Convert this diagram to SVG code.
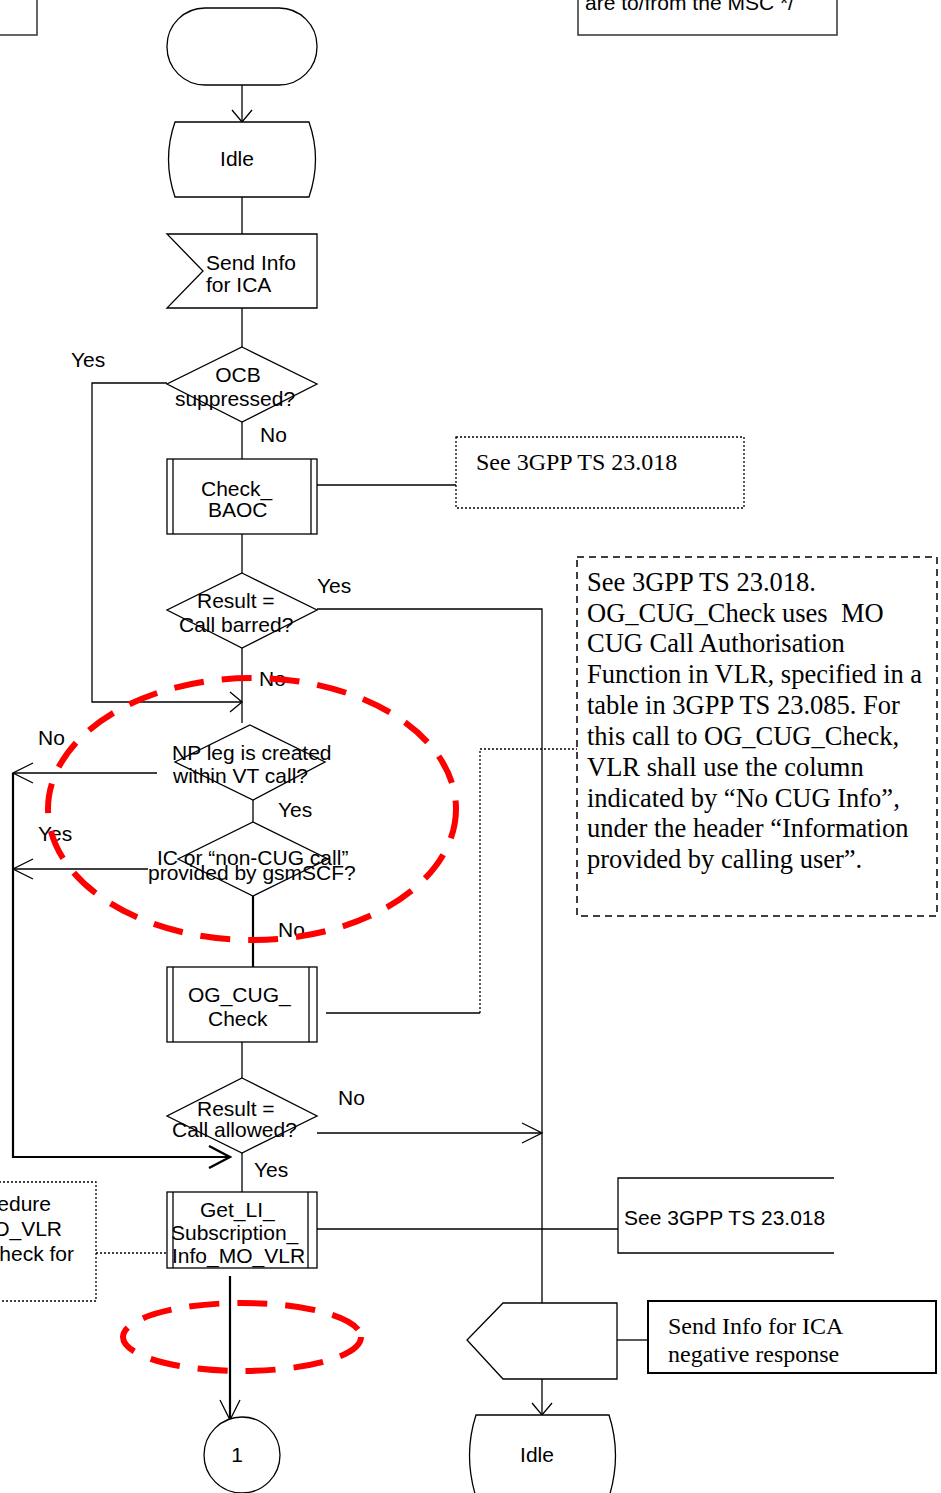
<svg xmlns="http://www.w3.org/2000/svg" width="941" height="1493" viewBox="0 0 941 1493">
<defs>
<style>
.s{fill:#fff;stroke:#000;stroke-width:1.3}
.ln{fill:none;stroke:#000;stroke-width:1.3}
.bd{fill:none;stroke:#000;stroke-width:2.2}
.dot{fill:none;stroke:#000;stroke-width:1.3;stroke-dasharray:2 2}
.red{fill:none;stroke:#f00;stroke-width:6;stroke-dasharray:30 18}
.a{font-family:"Liberation Sans",Arial,sans-serif;font-size:21px;fill:#000}
.t{font-family:"Liberation Serif","Times New Roman",serif;font-size:24px;fill:#000}
.tb{font-family:"Liberation Serif","Times New Roman",serif;font-size:26.5px;fill:#000}
</style>
<marker id="arr" viewBox="0 0 22 22" refX="21" refY="11" markerWidth="22" markerHeight="22" markerUnits="userSpaceOnUse" orient="auto"><path d="M1,1 L21,11 L1,21" fill="none" stroke="#000" stroke-width="1.3"/></marker>
<marker id="arrS" viewBox="0 0 14 22" refX="13" refY="11" markerWidth="14" markerHeight="22" markerUnits="userSpaceOnUse" orient="auto"><path d="M1,1 L13,11 L1,21" fill="none" stroke="#000" stroke-width="1.3"/></marker>
<marker id="arrB" viewBox="0 0 24 24" refX="22" refY="12" markerWidth="24" markerHeight="24" markerUnits="userSpaceOnUse" orient="auto"><path d="M1,1 L22,12 L1,23" fill="none" stroke="#000" stroke-width="2.4"/></marker>
</defs>
<rect width="941" height="1493" fill="#fff"/>

<g id="connectors">
<line class="ln" x1="242" y1="85" x2="242" y2="122" marker-end="url(#arrS)"/>
<line class="ln" x1="242" y1="197" x2="242" y2="234"/>
<line class="ln" x1="242" y1="308" x2="242" y2="347"/>
<polyline class="ln" points="167,383 92,383 92,702 242,702" marker-end="url(#arrS)"/>
<line class="ln" x1="242" y1="422" x2="242" y2="459"/>
<line class="ln" x1="312" y1="485" x2="456" y2="485"/>
<line class="ln" x1="242" y1="534" x2="242" y2="573"/>
<polyline class="ln" points="317,609 542,609 542,1303"/>
<line class="ln" x1="242" y1="648" x2="242" y2="723"/>
<line class="ln" x1="157" y1="773" x2="13" y2="773" marker-end="url(#arr)"/>
<line class="ln" x1="148" y1="869" x2="13" y2="869" marker-end="url(#arr)"/>
<polyline class="bd" points="13,773 13,1157 230,1157" marker-end="url(#arrB)"/>
<line class="ln" x1="253" y1="800" x2="253" y2="822"/>
<line class="bd" x1="253" y1="896" x2="253" y2="967"/>
<polyline class="ln" points="326,1013 480,1013"/>
<polyline class="dot" points="480,1013 480,749 577,749"/>
<line class="ln" x1="242" y1="1042" x2="242" y2="1078"/>
<line class="ln" x1="317" y1="1133" x2="542" y2="1133" marker-end="url(#arr)"/>
<line class="ln" x1="242" y1="1153" x2="242" y2="1192"/>
<line class="ln" x1="317" y1="1229" x2="618" y2="1229"/>
<line class="dot" x1="96" y1="1253" x2="167" y2="1253"/>
<line class="bd" x1="230" y1="1276" x2="230" y2="1420" marker-end="url(#arr)"/>
<line class="ln" x1="617" y1="1340" x2="648" y2="1340"/>
<line class="ln" x1="542" y1="1379" x2="542" y2="1415" marker-end="url(#arrS)"/>
</g>

<g id="note-topleft"><rect x="-5" y="-5" width="42" height="40" fill="none" stroke="#333" stroke-width="1.5"/></g>
<g id="note-topright"><rect x="578" y="-5" width="259" height="40" fill="none" stroke="#333" stroke-width="1.5"/><text class="a" x="585" y="10">are to/from the MSC */</text></g>

<g id="start"><rect class="s" x="167" y="8" width="150" height="77" rx="38" ry="38"/></g>
<g id="idle1"><path class="s" d="M175,122 H309 Q322,159 309,197 H175 Q162,159 175,122 Z"/><text class="a" x="237" y="166" text-anchor="middle">Idle</text></g>
<g id="send-info"><path class="s" d="M167,234 H317 V308 H167 L203,271 Z"/><text class="a" x="206" y="270">Send Info</text><text class="a" x="206" y="292">for ICA</text></g>
<g id="ocb"><path class="s" d="M242,347 L317,384 L242,422 L167,384 Z"/><text class="a" x="238" y="382" text-anchor="middle">OCB</text><text class="a" x="235" y="406" text-anchor="middle">suppressed?</text></g>
<g id="check-baoc"><rect class="s" x="167" y="459" width="150" height="75"/><line class="ln" x1="173" y1="459" x2="173" y2="534"/><line class="ln" x1="311" y1="459" x2="311" y2="534"/><text class="a" x="201" y="496">Check_</text><text class="a" x="208" y="517">BAOC</text></g>
<g id="note-baoc"><rect class="dot" x="456" y="437" width="288" height="71"/><text class="t" x="476" y="470">See 3GPP TS 23.018</text></g>
<g id="barred"><path class="s" d="M242,573 L317,610 L242,648 L167,610 Z"/><text class="a" x="197" y="608">Result =</text><text class="a" x="179" y="632">Call barred?</text></g>
<g id="np-leg"><path class="s" d="M250,725 L325,762 L253,800 L175,762 Z" fill="none"/><text class="a" x="172" y="760">NP leg is created</text><text class="a" x="173" y="783">within VT call?</text></g>
<g id="ic-noncug"><path class="s" d="M253,822 L328,859 L253,896 L178,859 Z" fill="none"/><text class="a" x="157" y="865">IC or “non-CUG call”</text><text class="a" x="148" y="880">provided by gsmSCF?</text></g>
<g id="og-cug"><rect class="s" x="167" y="967" width="150" height="75"/><line class="ln" x1="173" y1="967" x2="173" y2="1042"/><line class="ln" x1="309" y1="967" x2="309" y2="1042"/><text class="a" x="188" y="1002">OG_CUG_</text><text class="a" x="208" y="1026">Check</text></g>
<g id="note-cug"><rect x="577" y="557" width="360" height="359" fill="none" stroke="#000" stroke-width="1.5" stroke-dasharray="7 5"/>
<text class="tb" x="587" y="591">See 3GPP TS 23.018.</text>
<text class="tb" x="587" y="622">OG_CUG_Check uses&#160; MO</text>
<text class="tb" x="587" y="652">CUG Call Authorisation</text>
<text class="tb" x="587" y="683">Function in VLR, specified in a</text>
<text class="tb" x="587" y="714">table in 3GPP TS 23.085. For</text>
<text class="tb" x="587" y="745">this call to OG_CUG_Check,</text>
<text class="tb" x="587" y="776">VLR shall use the column</text>
<text class="tb" x="587" y="807">indicated by “No CUG Info”,</text>
<text class="tb" x="587" y="837">under the header “Information</text>
<text class="tb" x="587" y="868">provided by calling user”.</text></g>
<g id="allowed"><path class="s" d="M242,1078 L317,1116 L242,1153 L167,1116 Z"/><text class="a" x="197" y="1116">Result =</text><text class="a" x="172" y="1137">Call allowed?</text></g>
<g id="get-li"><rect class="s" x="167" y="1192" width="150" height="76"/><line class="ln" x1="173" y1="1192" x2="173" y2="1268"/><line class="ln" x1="308" y1="1192" x2="308" y2="1268"/><text class="a" x="200" y="1217">Get_LI_</text><text class="a" x="171" y="1240">Subscription_</text><text class="a" x="172" y="1263">Info_MO_VLR</text></g>
<g id="note-li-left"><rect class="dot" x="-5" y="1182" width="101" height="119"/><text class="a" x="51" y="1211" text-anchor="end">edure</text><text class="a" x="62" y="1236" text-anchor="end">O_VLR</text><text class="a" x="74" y="1261" text-anchor="end">heck for</text></g>
<g id="note-li-right"><polyline class="ln" points="834,1178 618,1178 618,1253 834,1253"/><text class="a" x="624" y="1225">See 3GPP TS 23.018</text></g>
<g id="connector-1"><circle class="s" cx="242" cy="1455" r="38"/><text class="a" x="237" y="1462" text-anchor="middle">1</text></g>
<g id="send-neg"><path class="s" d="M503,1303 H617 V1379 H503 L467,1340 Z"/></g>
<g id="note-neg"><rect x="648" y="1301" width="288" height="72" fill="#fff" stroke="#000" stroke-width="2"/><text class="t" x="668" y="1334">Send Info for ICA</text><text class="t" x="668" y="1362">negative response</text></g>
<g id="idle2"><path class="s" d="M476,1415 H609 Q622,1455 609,1497 H476 Q463,1455 476,1415 Z"/><text class="a" x="537" y="1462" text-anchor="middle">Idle</text></g>

<g id="labels">
<text class="a" x="71" y="367">Yes</text>
<text class="a" x="260" y="442">No</text>
<text class="a" x="317" y="593">Yes</text>
<text class="a" x="259" y="686">No</text>
<text class="a" x="38" y="745">No</text>
<text class="a" x="278" y="817">Yes</text>
<text class="a" x="38" y="841">Yes</text>
<text class="a" x="278" y="937">No</text>
<text class="a" x="338" y="1105">No</text>
<text class="a" x="254" y="1177">Yes</text>
</g>

<g id="highlights">
<ellipse class="red" cx="252" cy="809" rx="204" ry="131"/>
<ellipse class="red" cx="242" cy="1337" rx="119" ry="34"/>
</g>
</svg>
